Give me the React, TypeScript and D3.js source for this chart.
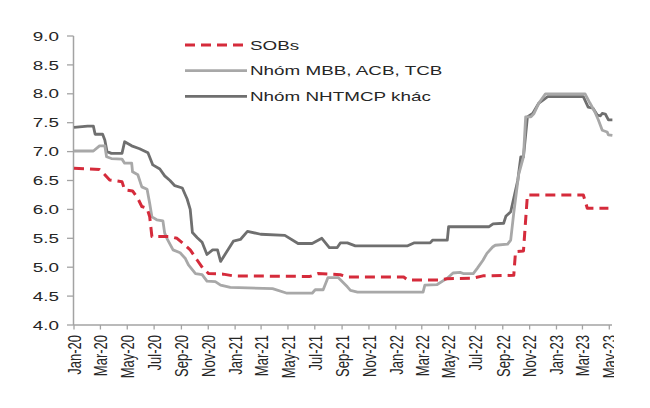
import React from "react";
import * as d3 from "d3";

const xTickLabels = ["Jan-20","Mar-20","May-20","Jul-20","Sep-20","Nov-20","Jan-21","Mar-21","May-21","Jul-21","Sep-21","Nov-21","Jan-22","Mar-22","May-22","Jul-22","Sep-22","Nov-22","Jan-23","Mar-23","May-23"];
const yTicks = [4.0, 4.5, 5.0, 5.5, 6.0, 6.5, 7.0, 7.5, 8.0, 8.5, 9.0];
const seriesNames = ["SOBs", "Nhóm MBB, ACB, TCB", "Nhóm NHTMCP khác"];

const sobsDates = ["2020-01-01","2020-02-28","2020-03-11","2020-03-22","2020-04-19","2020-04-25","2020-05-13","2020-05-25","2020-06-03","2020-06-15","2020-06-21","2020-06-26","2020-08-06","2020-08-22","2020-09-05","2020-09-21","2020-10-07","2020-10-20","2020-11-02","2020-12-05","2020-12-28","2021-06-20","2021-07-08","2021-08-28","2021-09-13","2022-01-19","2022-01-28","2022-04-12","2022-04-28","2022-06-26","2022-07-18","2022-09-26","2022-09-30","2022-10-18","2022-10-27","2023-03-03","2023-03-12","2023-04-29"];
const sobsValues = [6.71,6.69,6.60,6.51,6.48,6.34,6.32,6.19,6.05,6.02,5.87,5.53,5.53,5.50,5.41,5.30,5.12,4.98,4.89,4.88,4.85,4.84,4.89,4.87,4.83,4.83,4.78,4.78,4.80,4.81,4.85,4.86,5.27,5.28,6.25,6.25,6.02,6.02];

const mbbDates = ["2020-01-01","2020-02-14","2020-02-28","2020-03-11","2020-03-15","2020-03-26","2020-04-19","2020-04-25","2020-05-11","2020-05-13","2020-05-25","2020-06-03","2020-06-15","2020-06-21","2020-06-26","2020-07-07","2020-07-21","2020-07-25","2020-07-30","2020-08-13","2020-08-29","2020-09-10","2020-09-17","2020-10-03","2020-10-18","2020-10-29","2020-11-17","2020-11-29","2020-12-21","2021-03-27","2021-04-29","2021-06-25","2021-07-02","2021-07-20","2021-07-31","2021-08-23","2021-09-13","2021-09-20","2021-10-06","2022-03-04","2022-03-08","2022-04-05","2022-04-28","2022-05-11","2022-05-27","2022-06-03","2022-06-26","2022-07-05","2022-07-18","2022-07-27","2022-08-09","2022-08-15","2022-09-12","2022-09-19","2022-09-26","2022-10-07","2022-10-18","2022-10-23","2022-11-04","2022-11-11","2022-11-22","2022-12-07","2023-03-07","2023-03-18","2023-03-29","2023-04-06","2023-04-15","2023-04-26","2023-04-29","2023-05-08"];
const mbbValues = [7.01,7.01,7.10,7.10,6.91,6.88,6.87,6.80,6.80,6.65,6.60,6.39,6.35,6.10,5.87,5.82,5.80,5.59,5.50,5.30,5.25,5.15,5.04,4.89,4.87,4.76,4.75,4.69,4.65,4.63,4.55,4.55,4.61,4.61,4.82,4.82,4.66,4.60,4.57,4.57,4.69,4.70,4.81,4.90,4.91,4.89,4.89,4.98,5.12,5.24,5.35,5.38,5.40,5.47,5.94,6.60,6.91,7.60,7.60,7.66,7.84,8.00,8.00,7.84,7.69,7.55,7.37,7.34,7.29,7.28];

const otherDates = ["2020-01-01","2020-02-01","2020-02-14","2020-02-18","2020-03-06","2020-03-11","2020-03-16","2020-03-26","2020-04-19","2020-04-25","2020-05-11","2020-05-29","2020-06-17","2020-06-28","2020-07-14","2020-07-25","2020-08-06","2020-08-17","2020-09-03","2020-09-14","2020-09-21","2020-09-26","2020-10-07","2020-10-18","2020-10-29","2020-11-11","2020-11-22","2020-11-29","2020-12-14","2020-12-28","2021-01-13","2021-01-29","2021-02-28","2021-04-24","2021-05-24","2021-06-25","2021-07-17","2021-08-03","2021-08-21","2021-08-28","2021-09-13","2021-10-01","2022-01-28","2022-02-11","2022-03-20","2022-03-26","2022-04-28","2022-05-01","2022-08-01","2022-08-10","2022-09-03","2022-09-08","2022-09-19","2022-10-05","2022-10-12","2022-10-18","2022-10-27","2022-11-08","2022-11-22","2022-12-03","2022-12-12","2023-03-03","2023-03-14","2023-03-25","2023-04-04","2023-04-11","2023-04-15","2023-04-22","2023-04-29","2023-05-08"];
const otherValues = [7.42,7.44,7.44,7.30,7.30,7.20,7.00,6.97,6.97,7.17,7.10,7.05,6.98,6.77,6.70,6.58,6.50,6.41,6.37,6.18,6.00,5.60,5.51,5.43,5.22,5.30,5.30,5.10,5.28,5.45,5.48,5.62,5.57,5.55,5.41,5.41,5.50,5.34,5.34,5.42,5.42,5.37,5.37,5.42,5.42,5.47,5.47,5.70,5.70,5.75,5.76,5.88,5.96,6.50,6.91,6.91,7.60,7.66,7.84,7.90,7.95,7.95,7.77,7.75,7.63,7.62,7.66,7.65,7.55,7.55];

const parseDay = d3.timeParse("%Y-%m-%d");
const parseTick = d3.timeParse("%b-%y");

const W = 650, H = 408;
const STRETCH = 1.45;
const FONT = "'Liberation Sans', Arial, Helvetica, sans-serif";

export default function App() {
  const x = d3.scaleTime()
    .domain([parseTick("Jan-20") as Date, parseTick("May-23") as Date])
    .range([74, 609.3]);
  const y = d3.scaleLinear().domain([4, 9]).range([325, 36]);

  const mk = (dates: string[], vals: number[]) =>
    dates.map((d, i) => ({ d: parseDay(d) as Date, v: vals[i] }));
  const line = d3.line<{ d: Date; v: number }>().x(p => x(p.d)).y(p => y(p.v));

  const series = [
    { name: seriesNames[2], data: mk(otherDates, otherValues), color: "#6f6f6f", dash: undefined, w: 2.8 },
    { name: seriesNames[1], data: mk(mbbDates, mbbValues), color: "#a8a8a8", dash: undefined, w: 2.8 },
    { name: seriesNames[0], data: mk(sobsDates, sobsValues), color: "#d52b3b", dash: "10 6", w: 3 },
  ];
  const legend = [series[2], series[1], series[0]];

  const axisColor = "#a3a3a3";
  const textColor = "#262626";

  return (
    <svg width={W} height={H} style={{ position: "absolute", left: 0, top: 0, background: "#fff" }}>
      <defs>
        <clipPath id="xlabClip">
          <rect x={0} y={0} width={614} height={H} />
        </clipPath>
      </defs>
      {/* y axis */}
      <line x1={73.5} x2={73.5} y1={y(9)} y2={y(4)} stroke={axisColor} strokeWidth={1.5} />
      {yTicks.map(t => (
        <g key={t}>
          <line x1={67} x2={73.5} y1={y(t)} y2={y(t)} stroke={axisColor} strokeWidth={1.3} />
          <text transform={`translate(59,${y(t)}) scale(${STRETCH},1)`} textAnchor="end" dy="0.36em"
            fontFamily={FONT} fontSize={13} fill={textColor}>{t.toFixed(1)}</text>
        </g>
      ))}
      {/* x axis */}
      <line x1={73.5} x2={612} y1={y(4)} y2={y(4)} stroke={axisColor} strokeWidth={1.5} />
      <g clipPath="url(#xlabClip)">
        {xTickLabels.map(l => {
          const px = x(parseTick(l) as Date);
          return (
            <g key={l}>
              <line x1={px} x2={px} y1={y(4)} y2={y(4) + 4.5} stroke={axisColor} strokeWidth={1.3} />
              <text transform={`translate(${px},335) scale(${STRETCH},1) rotate(-90)`} textAnchor="end" dy="0.36em"
                fontFamily={FONT} fontSize={13} fill={textColor}>{l}</text>
            </g>
          );
        })}
      </g>
      {/* lines */}
      {series.map(s => (
        <path key={s.name} d={line(s.data) || ""} fill="none" stroke={s.color} strokeWidth={s.w}
          strokeDasharray={s.dash} strokeLinejoin="round" />
      ))}
      {/* legend */}
      {legend.map((s, i) => {
        const ly = 45 + i * 25.7;
        return (
          <g key={s.name}>
            <line x1={185} x2={247} y1={ly} y2={ly} stroke={s.color} strokeWidth={s.w} strokeDasharray={s.dash} />
            <text transform={`translate(250,${ly}) scale(${STRETCH},1)`} dy="0.36em" fontFamily={FONT}
              fontSize={13} fill={textColor}>{s.name}</text>
          </g>
        );
      })}
    </svg>
  );
}
